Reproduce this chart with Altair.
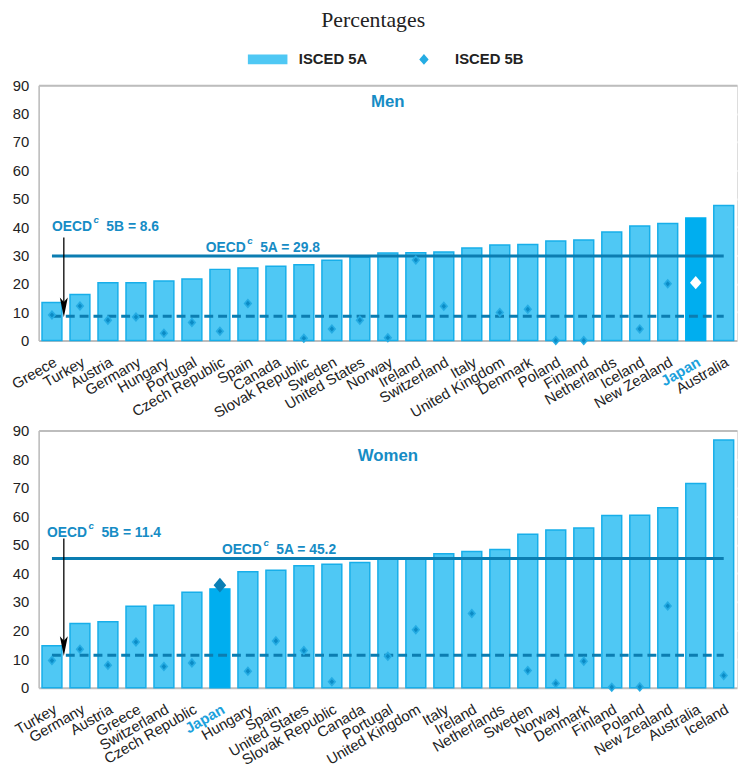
import altair as alt
import pandas as pd

# ---------------- data ----------------
men_countries = ["Greece", "Turkey", "Austria", "Germany", "Hungary", "Portugal",
                 "Czech Republic", "Spain", "Canada", "Slovak Republic", "Sweden",
                 "United States", "Norway", "Ireland", "Switzerland", "Italy",
                 "United Kingdom", "Denmark", "Poland", "Finland", "Netherlands",
                 "Iceland", "New Zealand", "Japan", "Australia"]
men_5a = [13.4, 16.2, 20.4, 20.4, 21.0, 21.7, 25.1, 25.6, 26.2, 26.7, 28.3, 29.4,
          30.9, 31.0, 31.2, 32.6, 33.7, 33.9, 35.1, 35.5, 38.3, 40.4, 41.3, 43.2, 47.6]
men_5b = [9.0, 12.2, 7.2, 8.3, 2.6, 6.4, 3.3, 13.1, None, 0.8, 4.1, 7.2,
          1.0, 28.4, 12.1, None, 9.9, 11.0, 0.0, 0.0, None, 4.1, 20.0, 20.4, None]
men_oecd_5a = 29.8
men_oecd_5b = 8.6

women_countries = ["Turkey", "Germany", "Austria", "Greece", "Switzerland",
                   "Czech Republic", "Japan", "Hungary", "Spain", "United States",
                   "Slovak Republic", "Canada", "Portugal", "United Kingdom", "Italy",
                   "Ireland", "Netherlands", "Sweden", "Norway", "Denmark", "Finland",
                   "Poland", "New Zealand", "Australia", "Iceland"]
women_5a = [14.7, 22.5, 23.1, 28.5, 28.9, 33.4, 34.6, 40.6, 41.1, 42.7, 43.2, 43.8,
            45.0, 45.1, 46.9, 47.7, 48.4, 53.7, 55.2, 55.9, 60.3, 60.4, 63.0, 71.5, 86.7]
women_5b = [9.5, 13.5, 7.9, 16.0, 7.4, 8.7, 35.9, 5.8, 16.4, 13.0, 2.1, None,
            11.0, 20.3, None, 26.0, None, 6.0, 1.5, 9.3, 0.2, 0.3, 28.6, None, 4.3]
women_oecd_5a = 45.2
women_oecd_5b = 11.4

series_names = ["ISCED 5A", "ISCED 5B"]
y_ticks = list(range(0, 100, 10))

# ---------------- style ----------------
W = 706
LIGHT = "#4FC8F4"
EDGE = "#17AEE9"
JAPAN_BAR = "#00AEEF"
DIAMOND = "#25ACE3"
DIAMOND_CORE = "#0B8BC5"
LINE = "#0B7DB1"
TXT = "#168CC5"
FONT = "Liberation Sans"

DIAMOND_PATH = "M0,-1.1L0.95,0L0,1.1L-0.95,0Z"
RECT_PATH = "M-4,-1H4V1H-4Z"
ARROW_PATH = "M0,1L-0.4,-1L0,-0.55L0.4,-1Z"


def panel(countries, a, b, oecd_a, oecd_b, name, height, name_y,
          b_anchor, b_dx, b_y, a_anchor, a_dx, a_y,
          arrow_top, arrow_tip, japan_color, japan_size, show_legend):
    df = pd.DataFrame({"country": countries, "a": a, "b": b})
    df["series"] = "ISCED 5B"
    px_per_unit = height / 90.0

    xscale = alt.Scale(domain=countries, paddingInner=0.29, paddingOuter=0.12)
    yscale = alt.Scale(domain=[0, 90], nice=False, zero=True)

    x_axis = alt.Axis(
        title=None, labelAngle=-30, labelFontSize=15, labelFont=FONT,
        labelColor=alt.condition("datum.value == 'Japan'", alt.value("#1BA1DC"), alt.value("#222222")),
        labelFontWeight=alt.condition("datum.value == 'Japan'", alt.value("bold"), alt.value("normal")),
        labelPadding=14, ticks=False, domainColor="#BDBDBD", domainWidth=2,
        labelAlign="right", labelBaseline="top", grid=False)
    y_axis = alt.Axis(
        title=None, values=y_ticks, labelFontSize=15, labelFont=FONT,
        labelColor="#222222", labelPadding=10, ticks=False, labelOverlap=False,
        domainColor="#BDBDBD", domainWidth=1.5,
        gridColor=alt.condition("datum.value == 90", alt.value("#BDBDBD"), alt.value("#FFFFFF")),
        gridWidth=2)

    X = lambda f: alt.X(f, scale=xscale, axis=x_axis)
    Y = lambda f: alt.Y(f, scale=yscale, axis=y_axis)

    base = alt.Chart(df)
    bars = base.mark_bar(strokeWidth=1.5).encode(
        x=X("country:N"),
        y=Y("a:Q"),
        fill=alt.condition("datum.country == 'Japan'", alt.value(JAPAN_BAR), alt.value(LIGHT)),
        stroke=alt.condition("datum.country == 'Japan'", alt.value(JAPAN_BAR), alt.value(EDGE)),
    )

    ref = pd.DataFrame({"start": [countries[0]], "end": [countries[-1]],
                        "va": [oecd_a], "vb": [oecd_b]})
    solid = alt.Chart(ref).mark_rule(color=LINE, strokeWidth=3).encode(
        x=X("start:N"), x2="end:N", y=Y("va:Q"))
    dashed = alt.Chart(ref).mark_rule(color=LINE, strokeWidth=3, strokeDash=[9, 5]).encode(
        x=X("start:N"), x2="end:N", y=Y("vb:Q"))

    if show_legend:
        leg = alt.Legend(orient="none", legendX=224, legendY=-34, direction="horizontal",
                         title=None, labelFont=FONT, labelFontSize=15, labelFontWeight="bold",
                         labelColor="#222222", labelOffset=24, columnPadding=49,
                         symbolSize=100, symbolStrokeColor=EDGE, symbolStrokeWidth=1.2,
                         padding=0, symbolOpacity=1)
    else:
        leg = None

    valid = base.transform_filter("isValid(datum.b) && datum.country != 'Japan'")
    dia = valid.mark_point(filled=True, size=85, opacity=1).encode(
        x=X("country:N"), y=Y("b:Q"),
        color=alt.Color("series:N", scale=alt.Scale(domain=series_names, range=[LIGHT, DIAMOND]), legend=leg),
        shape=alt.Shape("series:N", scale=alt.Scale(domain=series_names, range=[RECT_PATH, DIAMOND_PATH]), legend=leg),
    )
    core = valid.mark_point(filled=True, size=22, opacity=1, color=DIAMOND_CORE,
                            shape=DIAMOND_PATH).encode(x=X("country:N"), y=Y("b:Q"))
    jap = base.transform_filter("datum.country == 'Japan'").mark_point(
        filled=True, size=japan_size, opacity=1, color=japan_color, shape=DIAMOND_PATH
    ).encode(x=X("country:N"), y=Y("b:Q"))

    arr = pd.DataFrame({"country": [countries[0]], "top": [arrow_top],
                        "head": [arrow_tip + 10 / px_per_unit]})
    arrow_line = alt.Chart(arr).mark_rule(color="black", strokeWidth=1.3, xOffset=12).encode(
        x=X("country:N"), y=Y("top:Q"), y2="head:Q")
    arrow_head = alt.Chart(arr).mark_point(shape=ARROW_PATH, size=400, filled=True,
                                           opacity=1, color="black", xOffset=12).encode(
        x=X("country:N"), y=Y("head:Q"))

    def label(anchor, dx, yv, txt, size=14, italic=False, dy=0):
        d = pd.DataFrame({"country": [anchor], "v": [yv], "t": [txt]})
        return alt.Chart(d).mark_text(
            align="left", baseline="middle", dx=dx, dy=dy, font=FONT, fontSize=size,
            fontWeight="bold", fontStyle="italic" if italic else "normal", color=TXT
        ).encode(x=X("country:N"), y=Y("v:Q"), text="t:N")

    texts = [
        label(b_anchor, b_dx, b_y, "OECD"),
        label(b_anchor, b_dx + 42, b_y, "c", size=10, italic=True, dy=-7),
        label(b_anchor, b_dx + 55, b_y, f"5B = {oecd_b}"),
        label(a_anchor, a_dx, a_y, "OECD"),
        label(a_anchor, a_dx + 42, a_y, "c", size=10, italic=True, dy=-7),
        label(a_anchor, a_dx + 55, a_y, f"5A = {oecd_a}"),
    ]

    nd = pd.DataFrame({"v": [name_y], "t": [name]})
    name_text = alt.Chart(nd).mark_text(
        align="center", baseline="middle", font=FONT, fontSize=17, fontWeight="bold", color=TXT
    ).encode(x=alt.value(W / 2), y=Y("v:Q"), text="t:N")

    return alt.layer(bars, solid, dashed, dia, core, jap, arrow_line, arrow_head,
                     *texts, name_text).properties(width=W, height=height)


top = panel(men_countries, men_5a, men_5b, men_oecd_5a, men_oecd_5b, "Men", 258, 84,
            "Greece", 0, 39.9, "Portugal", 14, 32.7, 36.3, 8.2, "#FFFFFF", 150, True)
bottom = panel(women_countries, women_5a, women_5b, women_oecd_5a, women_oecd_5b, "Women", 260, 81,
               "Turkey", -5, 54.3, "Japan", 2, 48.2, 52.2, 11.1, "#0A7FB5", 180, False)

chart = alt.vconcat(top, bottom, spacing=91, bounds="flush").resolve_scale(
    x="independent", y="independent", color="independent", shape="independent"
).properties(
    title=alt.Title("Percentages", font="Liberation Serif", fontSize=22, fontWeight="normal",
                    color="#222222", anchor="middle", offset=19),
    padding={"left": 0, "top": -3, "right": 0, "bottom": 0},
).configure_view(stroke=None, fill="#E6F5FC").configure(font=FONT)

chart.save("out.html", embed_options={"renderer": "svg", "actions": False})
